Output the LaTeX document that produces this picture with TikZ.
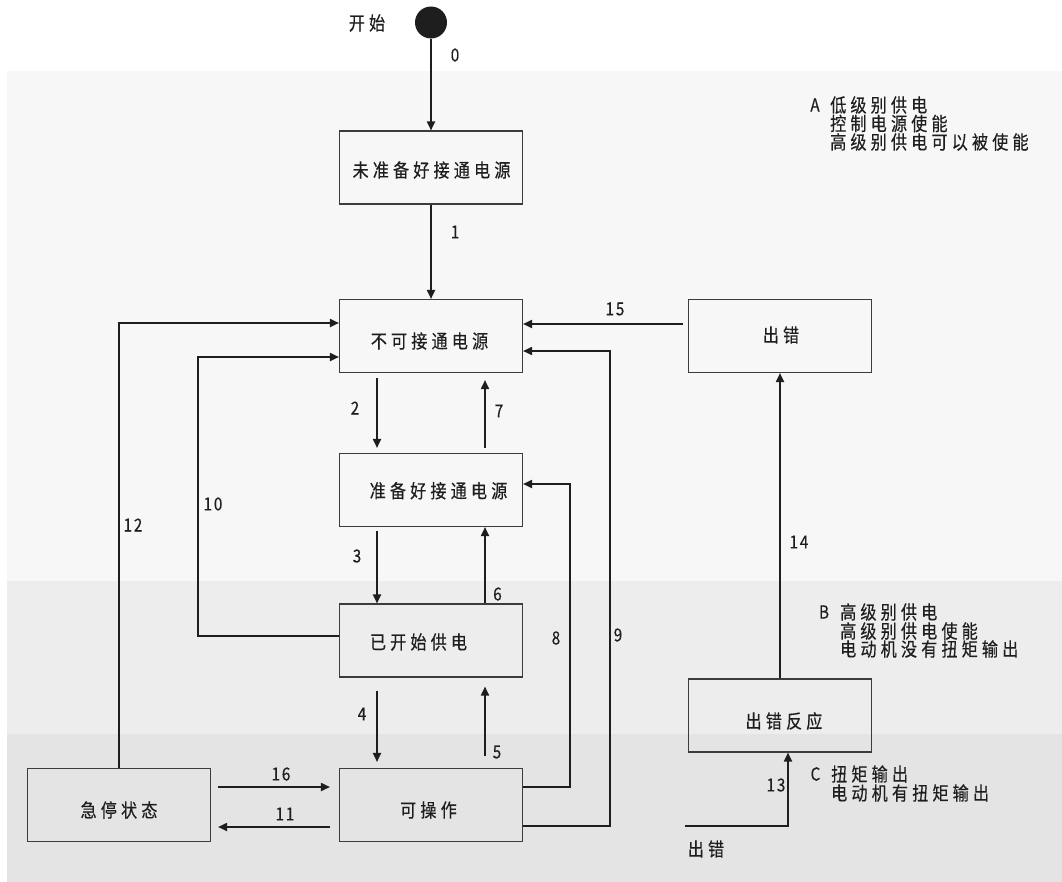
\documentclass[tikz,border=0pt]{standalone}
\usepackage{fontspec}
\newfontfamily\cjk[LetterSpace=22,FakeStretch=0.85,FakeBold=0.4]{Noto Sans CJK SC}
\newfontfamily\numf[LetterSpace=10,FakeStretch=0.85,FakeBold=0.3]{Noto Sans CJK SC}
\usetikzlibrary{arrows.meta,calc}
\definecolor{bandA}{HTML}{F7F7F7}
\definecolor{bandB}{HTML}{EDEDED}
\definecolor{bandC}{HTML}{E4E4E4}
\definecolor{ink}{HTML}{1E1E1E}
\definecolor{edge}{HTML}{3C3C3C}
\begin{document}
\begin{tikzpicture}[x=1bp,y=-1bp,
  state/.style={draw=edge, line width=1.1bp, minimum width=183bp, minimum height=73bp, inner sep=0pt},
  lbl/.style={font=\cjk\fontsize{19}{19}\selectfont, inner sep=0pt, text=ink},
  num/.style={font=\numf\fontsize{18}{18}\selectfont, inner sep=0pt, text=ink},
  arr/.style={draw=ink, line width=1.8bp, -{Triangle[length=9bp,width=8bp]}}]
\useasboundingbox (0,0) rectangle (1062,882);
% bands
\fill[bandA] (7,71) rectangle (1062,581);
\fill[bandB] (7,581) rectangle (1062,734);
\fill[bandC] (7,734) rectangle (1062,882);
% start
\node[circle, fill=ink, minimum size=32bp, inner sep=0pt] (s) at (431,22.5) {};
\node[lbl] (tstart) at (367,23) {开始};
% states
\node[state] (b1) at (431,167.5) {};
\node[state] (b2) at (431,336) {};
\node[state] (b3) at (431,490) {};
\node[state] (b4) at (431,640.5) {};
\node[state] (b5) at (431,805) {};
\node[state] (b6) at (119,805) {};
\node[state] (b7) at (780,336) {};
\node[state] (b8) at (780,715.5) {};
% state texts
\node[lbl] (t1) at ($(b1.center)+(0.5,2.5)$) {未准备好接通电源};
\node[lbl] (t2) at ($(b2.center)+(-1.5,5)$) {不可接通电源};
\node[lbl] (t3) at ($(b3.center)+(7.5,0.7)$) {准备好接通电源};
\node[lbl] (t4) at ($(b4.center)+(-12.5,1.5)$) {已开始供电};
\node[lbl] (t5) at ($(b5.center)+(-2.5,5)$) {可操作};
\node[lbl] (t6) at ($(b6.center)+(0,5)$) {急停状态};
\node[lbl] (t7) at ($(b7.center)+(1,-1)$) {出错};
\node[lbl] (t8) at ($(b8.center)+(4,5.5)$) {出错反应};
% connectors
\draw[arr] (s.south) -- (s.south |- b1.north);
\draw[arr] (b1.south) -- (b2.north);
\draw[arr] ($(b2.south)+(-54,5)$) -- ($(b3.north)+(-54,-5)$);
\draw[arr] ($(b3.north)+(54,-5)$) -- ($(b2.south)+(54,7)$);
\draw[arr] ($(b3.south)+(-54,4)$) -- ($(b4.north)+(-54,0)$);
\draw[arr] ($(b4.north)+(54,0)$) -- ($(b3.south)+(54,0)$);
\draw[arr] ($(b4.south)+(-54,13)$) -- ($(b5.north)+(-54,-6)$);
\draw[arr] ($(b5.north)+(54,-12)$) -- ($(b4.south)+(54,9)$);
\coordinate (k10) at (198,500);
\draw[arr] ($(b4.west)+(0,-4.5)$) -| (k10) |- ($(b2.west)+(0,21)$);
\draw[arr] (b6.north) |- ($(b2.west)+(0,-13)$);
\draw[arr] ($(b7.west)+(-5,-12)$) -- ($(b2.east)+(0,-12)$);
\coordinate (k9) at (610,600);
\draw[arr] ($(b5.east)+(0,21)$) -| (k9) |- ($(b2.east)+(0,15)$);
\coordinate (k8) at (570,600);
\draw[arr] ($(b5.east)+(0,-18)$) -| (k8) |- ($(b3.east)+(0,-6)$);
\draw[arr] ($(b6.east)+(7,-18)$) -- ($(b5.west)+(-9,-18)$);
\draw[arr] ($(b5.west)+(-9,22)$) -- ($(b6.east)+(7,22)$);
\draw[arr] (b8.north) -- (b7.south);
\coordinate (e13) at (685,826);
\draw[arr] (e13) -| ($(b8.south)+(8,0)$);
\node[lbl] (terr) at (706,849) {出错};
% numbers
\node[num] (n0) at (455,55) {0};
\node[num] (n1) at (455,232) {1};
\node[num] (n2) at (355,408) {2};
\node[num] (n7) at (499,411) {7};
\node[num] (n3) at (357,556) {3};
\node[num] (n6) at (497.5,594) {6};
\node[num] (n4) at (362,714) {4};
\node[num] (n5) at (497,752) {5};
\node[num] (n10) at (213,504) {10};
\node[num] (n12) at (133,525) {12};
\node[num] (n15) at (615,309) {15};
\node[num] (n8) at (556,638) {8};
\node[num] (n9) at (618,635) {9};
\node[num] (n14) at (799,542) {14};
\node[num] (n16) at (281,774) {16};
\node[num] (n11) at (285,814) {11};
\node[num] (n13) at (776,785) {13};
% notes
\node[num] (nA) at (815,105) {A};
\node[lbl, anchor=west] (a1) at (830,105) {低级别供电};
\node[lbl, anchor=west] (a2) at (830,123.5) {控制电源使能};
\node[lbl, anchor=west] (a3) at (830,142) {高级别供电可以被使能};
\node[num] (nB) at (824,612) {B};
\node[lbl, anchor=west] (b1l) at (840,612) {高级别供电};
\node[lbl, anchor=west] (b2l) at (840,631) {高级别供电使能};
\node[lbl, anchor=west] (b3l) at (840,649) {电动机没有扭矩输出};
\node[num] (nC) at (815.5,774) {C};
\node[lbl, anchor=west] (c1l) at (831,774) {扭矩输出};
\node[lbl, anchor=west] (c2l) at (831,793) {电动机有扭矩输出};
\end{tikzpicture}
\end{document}
